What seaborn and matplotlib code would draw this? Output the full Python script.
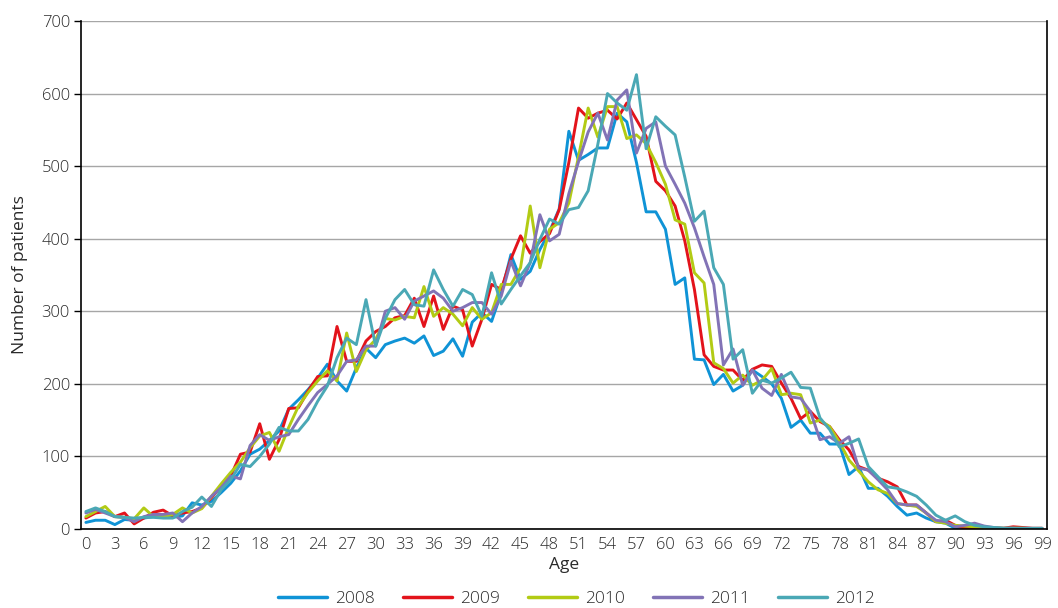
import numpy as np
import pandas as pd
import matplotlib
matplotlib.use("Agg")
import matplotlib.pyplot as plt
import seaborn as sns
from matplotlib import font_manager

ages = list(range(0, 100))
years = ["2008", "2009", "2010", "2011", "2012"]

y2008 = [9, 12, 12, 6, 13, 12, 15, 17, 16, 16, 18, 36, 33, 38, 50, 63, 80, 103, 110, 122,
         135, 165, 178, 192, 208, 227, 204, 190, 222, 249, 236, 254, 259, 263, 256, 266, 239, 245, 262, 238,
         285, 298, 286, 325, 378, 344, 355, 385, 410, 441, 548, 508, 516, 525, 525, 573, 561, 505, 437, 437,
         413, 337, 346, 234, 233, 199, 213, 190, 198, 219, 210, 200, 180, 140, 150, 132, 132, 117, 117, 75,
         86, 56, 56, 45, 31, 19, 22, 15, 10, 8, 1, 2, 2, 1, 1, 0, 0, 0, 0, 0]
y2009 = [15, 22, 24, 17, 22, 7, 15, 23, 26, 18, 22, 24, 29, 43, 59, 73, 103, 106, 145, 96,
         123, 166, 167, 190, 210, 211, 279, 231, 231, 259, 272, 279, 291, 294, 318, 279, 321, 275, 307, 302,
         252, 289, 337, 330, 372, 404, 380, 396, 407, 440, 505, 580, 566, 573, 577, 565, 587, 564, 541, 479,
         466, 445, 397, 330, 240, 224, 219, 219, 205, 220, 226, 224, 201, 180, 152, 162, 148, 141, 123, 109,
         86, 81, 70, 65, 58, 33, 33, 22, 10, 12, 5, 1, 2, 1, 1, 1, 3, 2, 1, 1]
y2010 = [17, 24, 31, 17, 16, 14, 29, 17, 17, 20, 29, 22, 28, 45, 62, 78, 92, 112, 128, 133,
         107, 140, 169, 188, 204, 218, 204, 270, 217, 247, 261, 290, 288, 293, 291, 334, 293, 305, 296, 280,
         305, 289, 298, 337, 337, 360, 445, 360, 413, 422, 449, 513, 580, 540, 582, 582, 538, 543, 531, 505,
         475, 426, 420, 353, 339, 229, 221, 201, 212, 198, 205, 221, 185, 187, 185, 146, 150, 141, 120, 95,
         80, 65, 54, 49, 35, 33, 31, 22, 10, 8, 5, 4, 3, 2, 2, 1, 1, 1, 0, 0]
y2011 = [22, 27, 22, 17, 16, 10, 17, 20, 20, 22, 10, 22, 31, 45, 57, 73, 69, 115, 130, 122,
         127, 130, 151, 170, 188, 199, 211, 231, 233, 252, 252, 300, 305, 289, 314, 321, 328, 318, 300, 305,
         312, 312, 296, 321, 369, 335, 367, 433, 397, 406, 462, 506, 547, 573, 536, 591, 605, 518, 552, 561,
         500, 475, 449, 415, 375, 337, 226, 248, 198, 219, 194, 184, 213, 182, 180, 162, 123, 127, 118, 127,
         84, 81, 68, 54, 35, 33, 33, 22, 12, 10, 3, 5, 8, 4, 2, 1, 1, 0, 0, 0]
y2012 = [24, 29, 24, 17, 16, 15, 16, 16, 15, 15, 24, 30, 44, 31, 54, 68, 89, 86, 100, 117,
         140, 135, 135, 151, 176, 197, 236, 263, 254, 316, 252, 290, 316, 330, 309, 307, 357, 330, 307, 330,
         323, 293, 353, 310, 330, 349, 367, 399, 427, 420, 440, 443, 466, 530, 600, 587, 577, 626, 524, 568,
         555, 543, 485, 424, 438, 360, 337, 234, 247, 187, 205, 201, 208, 216, 195, 194, 153, 137, 113, 118,
         124, 86, 72, 58, 56, 51, 45, 33, 19, 12, 18, 10, 5, 3, 2, 1, 1, 1, 1, 1]

colors = ["#0f93d6", "#e3131b", "#b2cb14", "#8273b6", "#4aa8b5"]
xticks = list(range(0, 100, 3))
yticks = list(range(0, 701, 100))

series = [y2008, y2009, y2010, y2011, y2012]
df = pd.concat([pd.DataFrame({"Age": ages, "Patients": s, "Year": y})
                for s, y in zip(series, years)], ignore_index=True)

sns.set_style("white")
avail = {f.name for f in font_manager.fontManager.ttflist}
fam = "Open Sans" if "Open Sans" in avail else "DejaVu Sans"
plt.rcParams["font.family"] = [fam, "DejaVu Sans"]
plt.rcParams["font.weight"] = "light"

txt = "#2a2a2a"
fig = plt.figure(figsize=(10.58, 6.08), dpi=100)
ax = fig.add_axes([0.0766, 0.130, 0.9130, 0.8355])

sns.lineplot(data=df, x="Age", y="Patients", hue="Year", palette=dict(zip(years, colors)),
             linewidth=2.1, ax=ax, legend=False)

ax.set_xlim(-0.5, 99.5)
ax.set_ylim(0, 700)
ax.set_xticks(xticks)
ax.set_yticks(yticks)
ax.tick_params(axis="x", length=0, labelsize=12, colors=txt, pad=6)
ax.tick_params(axis="y", length=5, width=1, labelsize=12, colors=txt, direction="out",
               left=True, pad=3)
ax.tick_params(axis="y", color="#000000")
ax.yaxis.grid(True, color="#a6a6a6", linewidth=1)
ax.xaxis.grid(False)
ax.set_axisbelow(True)
for side in ["left", "bottom", "right"]:
    ax.spines[side].set_visible(True)
    ax.spines[side].set_color("#000000")
    ax.spines[side].set_linewidth(1.2)
ax.spines["top"].set_visible(False)
ax.set_xlabel("Age", fontsize=12.5, color=txt, labelpad=3)
ax.set_ylabel("Number of patients", fontsize=12.5, color=txt, labelpad=10)

handles = [plt.Line2D([0], [0], color=c, linewidth=2.5) for c in colors]
fig.legend(handles, years, loc="center", bbox_to_anchor=(0.545, 0.015), ncol=5, frameon=False,
           fontsize=12.5, handlelength=2.8, columnspacing=1.6, handletextpad=0.5,
           labelcolor=txt)

fig.savefig("out.png", dpi=100)
